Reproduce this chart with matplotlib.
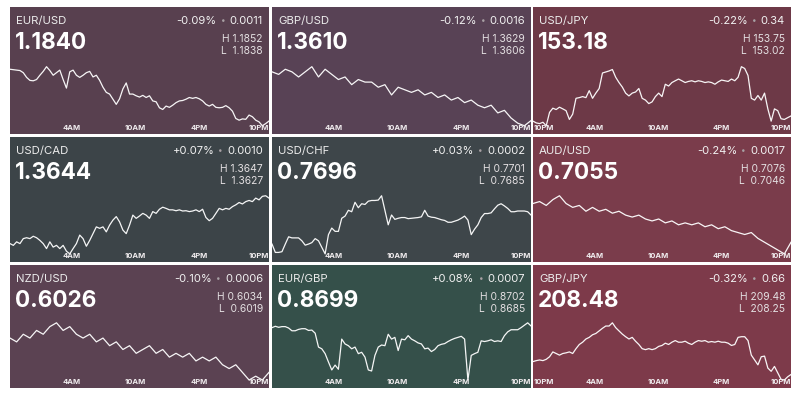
import numpy as np
import matplotlib.pyplot as plt

plt.rcParams['font.family'] = ['Inter', 'DejaVu Sans']

# --- data -------------------------------------------------------------
pairs = ["EUR/USD", "GBP/USD", "USD/JPY",
         "USD/CAD", "USD/CHF", "AUD/USD",
         "NZD/USD", "EUR/GBP", "GBP/JPY"]
last = ["1.1840", "1.3610", "153.18",
        "1.3644", "0.7696", "0.7055",
        "0.6026", "0.8699", "208.48"]
pct = ["-0.09%", "-0.12%", "-0.22%",
       "+0.07%", "+0.03%", "-0.24%",
       "-0.10%", "+0.08%", "-0.32%"]
chg = ["0.0011", "0.0016", "0.34",
       "0.0010", "0.0002", "0.0017",
       "0.0006", "0.0007", "0.66"]
highs = ["1.1852", "1.3629", "153.75",
         "1.3647", "0.7701", "0.7076",
         "0.6034", "0.8702", "209.48"]
lows = ["1.1838", "1.3606", "153.02",
        "1.3627", "0.7685", "0.7046",
        "0.6019", "0.8685", "208.25"]
bg = ["#58404f", "#584255", "#6d3947",
      "#3c4448", "#3e464a", "#7a3c4b",
      "#5b4252", "#35504a", "#7d3a4a"]

hour_labels = ["10PM", "4AM", "10AM", "4PM", "10PM"]
hour_pos = [0, 6, 12, 18, 24]

eurusd = [1.18512, 1.18511, 1.18510, 1.18509, 1.18504, 1.18493, 1.18486, 1.18485, 1.18488, 1.18498,
          1.18507, 1.18518, 1.18509, 1.18498, 1.18504, 1.18510, 1.18488, 1.18468, 1.18506, 1.18510,
          1.18498, 1.18493, 1.18498, 1.18504, 1.18507, 1.18494, 1.18498, 1.18486, 1.18470, 1.18458,
          1.18454, 1.18442, 1.18430, 1.18443, 1.18466, 1.18480, 1.18454, 1.18454, 1.18450, 1.18447,
          1.18451, 1.18446, 1.18450, 1.18438, 1.18436, 1.18422, 1.18418, 1.18426, 1.18423, 1.18428,
          1.18434, 1.18438, 1.18439, 1.18442, 1.18446, 1.18444, 1.18446, 1.18443, 1.18438, 1.18430,
          1.18426, 1.18430, 1.18423, 1.18422, 1.18423, 1.18427, 1.18422, 1.18414, 1.18397, 1.18393,
          1.18396, 1.18395, 1.18405, 1.18401, 1.18393, 1.18389, 1.18380, 1.18385, 1.18391]

gbpusd = [1.3627, 1.3626, 1.3628, 1.3627, 1.3625, 1.3627, 1.3629, 1.3625, 1.3628, 1.3626,
          1.3624, 1.3625, 1.3622, 1.3624, 1.3623, 1.3623, 1.3621, 1.3622, 1.3618, 1.3621,
          1.3620, 1.3619, 1.3620, 1.3618, 1.3619, 1.3617, 1.3618, 1.3616, 1.3617, 1.3615,
          1.3616, 1.3614, 1.3613, 1.3614, 1.3611, 1.3612, 1.3609, 1.3607, 1.3606, 1.3608]

usdjpy = [153.103, 153.082, 153.074, 153.090, 153.049, 153.206, 153.255, 153.239, 153.267, 153.247,
          153.226, 153.123, 153.185, 153.371, 153.379, 153.391, 153.379, 153.461, 153.371, 153.432,
          153.486, 153.668, 153.680, 153.692, 153.709, 153.618, 153.556, 153.503, 153.432, 153.399,
          153.432, 153.445, 153.486, 153.371, 153.350, 153.309, 153.329, 153.391, 153.432, 153.391,
          153.536, 153.515, 153.556, 153.577, 153.597, 153.577, 153.556, 153.569, 153.577, 153.564,
          153.577, 153.569, 153.556, 153.564, 153.556, 153.536, 153.564, 153.585, 153.577, 153.569,
          153.597, 153.577, 153.618, 153.742, 153.721, 153.639, 153.371, 153.350, 153.404, 153.350,
          153.432, 153.247, 153.103, 153.247, 153.226, 153.131, 153.123, 153.144, 153.164]

usdcad = [1.36307, 1.36301, 1.36313, 1.36307, 1.36324, 1.36327, 1.36324, 1.36332, 1.36327, 1.36318,
          1.36307, 1.36290, 1.36313, 1.36295, 1.36301, 1.36290, 1.36301, 1.36281, 1.36272, 1.36290,
          1.36307, 1.36336, 1.36324, 1.36298, 1.36318, 1.36341, 1.36364, 1.36359, 1.36364, 1.36347,
          1.36370, 1.36387, 1.36399, 1.36381, 1.36353, 1.36341, 1.36370, 1.36404, 1.36393, 1.36401,
          1.36410, 1.36404, 1.36393, 1.36416, 1.36410, 1.36424, 1.36431, 1.36427, 1.36422, 1.36422,
          1.36419, 1.36422, 1.36418, 1.36419, 1.36416, 1.36418, 1.36422, 1.36416, 1.36424, 1.36396,
          1.36385, 1.36393, 1.36410, 1.36427, 1.36422, 1.36427, 1.36424, 1.36433, 1.36439, 1.36447,
          1.36442, 1.36450, 1.36454, 1.36450, 1.36462, 1.36456, 1.36468, 1.36470, 1.36462]

usdchf = [0.76877, 0.76854, 0.76854, 0.76856, 0.76877, 0.76897, 0.76894, 0.76894, 0.76894, 0.76886,
          0.76874, 0.76877, 0.76881, 0.76892, 0.76886, 0.76868, 0.76850, 0.76903, 0.76921, 0.76912,
          0.76912, 0.76948, 0.76954, 0.76970, 0.76966, 0.76992, 0.76977, 0.76988, 0.76986, 0.76995,
          0.76997, 0.76997, 0.76998, 0.77010, 0.76970, 0.76930, 0.76957, 0.76945, 0.76948, 0.76950,
          0.76950, 0.76947, 0.76948, 0.76949, 0.76950, 0.76952, 0.76970, 0.76954, 0.76951, 0.76950,
          0.76947, 0.76944, 0.76942, 0.76937, 0.76937, 0.76940, 0.76943, 0.76948, 0.76954, 0.76943,
          0.76903, 0.76918, 0.76930, 0.76950, 0.76961, 0.76961, 0.76963, 0.76974, 0.76984, 0.76988,
          0.76982, 0.76975, 0.76966, 0.76966, 0.76968, 0.76968, 0.76968, 0.76966, 0.76957]

audusd = [0.7072, 0.7073, 0.7071, 0.7074, 0.7076, 0.7072, 0.7070, 0.7071, 0.7068, 0.7070,
          0.7068, 0.7069, 0.7067, 0.7068, 0.7066, 0.7065, 0.7066, 0.7064, 0.7063, 0.7064,
          0.7062, 0.7063, 0.7061, 0.7062, 0.7061, 0.7062, 0.7060, 0.7061, 0.7059, 0.7060,
          0.7058, 0.7057, 0.7056, 0.7057, 0.7054, 0.7052, 0.7050, 0.7048, 0.7046, 0.7052]

nzdusd = [0.6030, 0.6029, 0.6031, 0.6030, 0.6032, 0.6031, 0.6033, 0.6034, 0.6032, 0.6033,
          0.6031, 0.6030, 0.6031, 0.6029, 0.6030, 0.6028, 0.6029, 0.6027, 0.6028, 0.6026,
          0.6027, 0.6028, 0.6026, 0.6027, 0.6025, 0.6026, 0.6025, 0.6026, 0.6024, 0.6025,
          0.6024, 0.6025, 0.6023, 0.6022, 0.6023, 0.6021, 0.6019, 0.6020, 0.6019, 0.6021]

eurgbp = [0.87001, 0.87005, 0.87002, 0.87004, 0.87004, 0.87000, 0.86992, 0.86992, 0.86996, 0.86998,
          0.86998, 0.86993, 0.86994, 0.86985, 0.86945, 0.86940, 0.86926, 0.86902, 0.86879, 0.86893,
          0.86881, 0.86968, 0.86954, 0.86949, 0.86940, 0.86945, 0.86926, 0.86930, 0.86916, 0.86879,
          0.86876, 0.86921, 0.86945, 0.86951, 0.86949, 0.86982, 0.86968, 0.86973, 0.86935, 0.86968,
          0.86966, 0.86978, 0.86968, 0.86963, 0.86957, 0.86954, 0.86940, 0.86942, 0.86932, 0.86938,
          0.86949, 0.86953, 0.86955, 0.86961, 0.86966, 0.86970, 0.86973, 0.86976, 0.86968, 0.86850,
          0.86921, 0.86926, 0.86930, 0.86963, 0.86961, 0.86963, 0.86966, 0.86961, 0.86963, 0.86961,
          0.86978, 0.86989, 0.86995, 0.86995, 0.86995, 0.87001, 0.87008, 0.87015, 0.87006]

gbpjpy = [208.646, 208.667, 208.681, 208.667, 208.695, 208.750, 208.854, 208.820, 208.785, 208.820,
          208.834, 208.854, 208.820, 208.924, 209.014, 209.063, 209.132, 209.167, 209.223, 209.251,
          209.306, 209.362, 209.411, 209.411, 209.480, 209.376, 209.306, 209.237, 209.181, 209.132,
          209.167, 209.084, 209.014, 208.924, 208.903, 208.924, 208.903, 208.924, 208.973, 208.993,
          209.042, 209.014, 209.063, 209.098, 209.063, 209.063, 209.084, 209.042, 209.014, 209.063,
          209.098, 209.084, 209.098, 209.063, 209.077, 209.063, 209.084, 209.063, 209.063, 209.042,
          208.993, 209.014, 209.167, 209.181, 209.181, 209.098, 208.785, 208.681, 208.576, 208.750,
          208.764, 208.507, 208.437, 208.542, 208.403, 208.264, 208.250, 208.319, 208.368]

series = [eurusd, gbpusd, usdjpy, usdcad, usdchf, audusd, nzdusd, eurgbp, gbpjpy]

# --- layout (pixels of an 800x400 canvas) -----------------------------
W, H = 800, 400
cols = [(10, 269), (272, 531), (533, 791)]
rows = [(7, 134), (137, 262), (265, 388)]
PX = 0.72  # points per pixel at dpi 100
T0, T1 = 0.15, 24.65  # hours after 10PM shown across a panel

fig = plt.figure(figsize=(8, 4), dpi=100)
fig.patch.set_facecolor('white')

for i, name in enumerate(pairs):
    r, c = divmod(i, 3)
    x0, x1 = cols[c]
    y0, y1 = rows[r]
    ax = fig.add_axes([x0 / W, 1 - y1 / H, (x1 - x0) / W, (y1 - y0) / H])
    ax.set_facecolor(bg[i])
    for s in ax.spines.values():
        s.set_visible(False)
    ax.set_xticks([])
    ax.set_yticks([])

    vals = np.array(series[i])
    t = np.linspace(T0, T1, len(vals))
    ax.plot(t, vals, color='white', lw=0.9, alpha=0.95, solid_joinstyle='round')
    lo, hi = vals.min(), vals.max()
    span = hi - lo
    ax.set_ylim(lo - span * 0.065 / 0.465, hi + span * 0.47 / 0.465)
    ax.set_xlim(T0, T1)

    # header texts
    ax.annotate(name, xy=(0, 1), xycoords='axes fraction', xytext=(6 * PX, -14 * PX),
                textcoords='offset points', ha='left', va='center',
                fontsize=8.2, color='#ececec')
    ax.annotate(last[i], xy=(0, 1), xycoords='axes fraction', xytext=(5 * PX, -36 * PX),
                textcoords='offset points', ha='left', va='center',
                fontsize=16.3, fontweight='bold', color='white')
    t_chg = ax.annotate(chg[i], xy=(1, 1), xycoords='axes fraction', xytext=(-6 * PX, -14 * PX),
                        textcoords='offset points', ha='right', va='center',
                        fontsize=8, color='#f2f2f2')
    t_dot = ax.annotate('•', xy=(0, 0.5), xycoords=t_chg, xytext=(-3, 0),
                        textcoords='offset points', ha='right', va='center',
                        fontsize=6, color='#a8a0a4')
    ax.annotate(pct[i], xy=(0, 0.5), xycoords=t_dot, xytext=(-3, 0),
                textcoords='offset points', ha='right', va='center',
                fontsize=8, color='#f2f2f2')
    ax.annotate('H ' + highs[i], xy=(1, 1), xycoords='axes fraction', xytext=(-6 * PX, -32 * PX),
                textcoords='offset points', ha='right', va='center',
                fontsize=7.4, color='#e4e0e2')
    ax.annotate('L  ' + lows[i], xy=(1, 1), xycoords='axes fraction', xytext=(-6 * PX, -44 * PX),
                textcoords='offset points', ha='right', va='center',
                fontsize=7.4, color='#e4e0e2')

    # hour labels along the bottom
    show_first = name.endswith('JPY')
    for k, (lab, h) in enumerate(zip(hour_labels, hour_pos)):
        if k == 0 and not show_first:
            continue
        fx = (h - T0) / (T1 - T0)
        ha, dx = 'center', 0
        if k == 0:
            fx, ha, dx = 0, 'left', 1
        elif k == len(hour_labels) - 1:
            fx, ha, dx = 1, 'right', 0
        ax.annotate(lab, xy=(fx, 0), xycoords='axes fraction', xytext=(dx * PX, 6 * PX),
                    textcoords='offset points', ha=ha, va='center',
                    fontsize=5.5, fontweight='bold', color='#f0ecee')

fig.savefig('out.png', dpi=100)
